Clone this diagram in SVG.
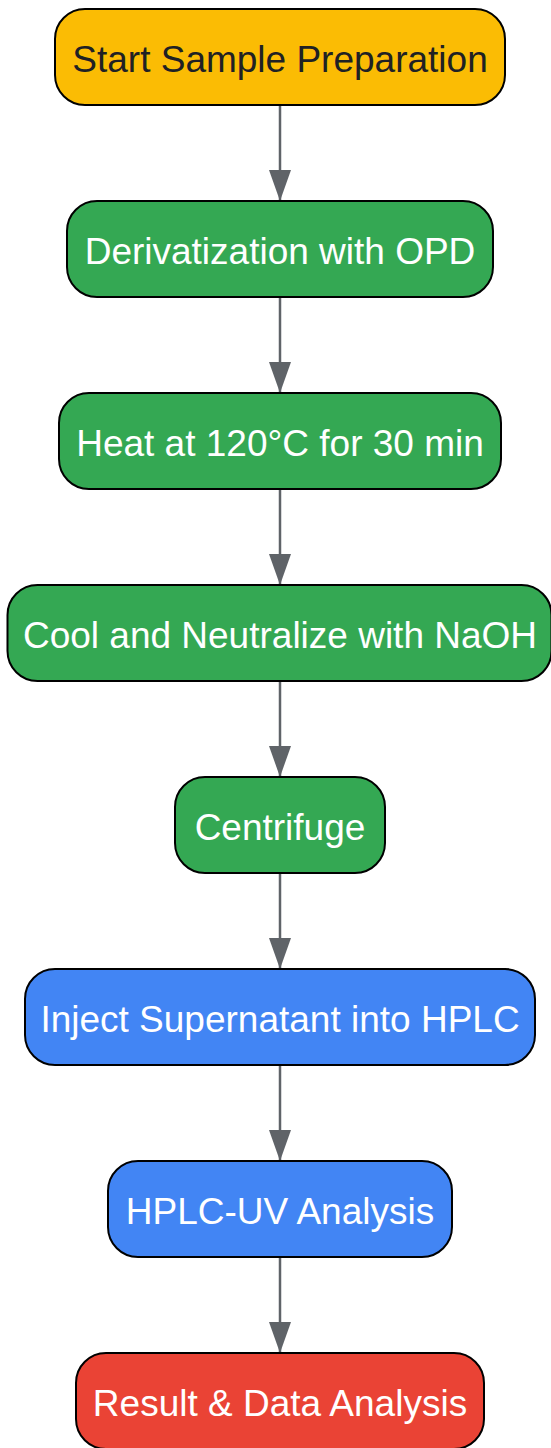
<svg xmlns="http://www.w3.org/2000/svg" width="551" height="1448" viewBox="0 0 551 1448">
<defs>
<style>
.n rect{stroke:#000;stroke-width:2}
.n text{font-family:"Liberation Sans",Arial,sans-serif;font-size:37px;text-anchor:middle;dominant-baseline:central;fill:#fff}
.y rect{fill:#FBBC04}
.y text{fill:#202124}
.g rect{fill:#34A853}
.b rect{fill:#4285F4}
.r rect{fill:#EA4335}
.e{stroke:#5f6368;stroke-width:2.5;fill:none;marker-end:url(#ah)}
</style>
<marker id="ah" markerWidth="32" markerHeight="22" refX="31" refY="11" orient="auto" markerUnits="userSpaceOnUse" viewBox="0 0 32 22">
<path d="M0,0 L31,11 L0,22 Z" fill="#5f6368"/>
</marker>
</defs>
<g id="edges">
<line class="e" x1="280" y1="105" x2="280" y2="201"/>
<line class="e" x1="280" y1="297" x2="280" y2="393"/>
<line class="e" x1="280" y1="489" x2="280" y2="585"/>
<line class="e" x1="280" y1="681" x2="280" y2="777"/>
<line class="e" x1="280" y1="873" x2="280" y2="969"/>
<line class="e" x1="280" y1="1065" x2="280" y2="1161"/>
<line class="e" x1="280" y1="1257" x2="280" y2="1353"/>
</g>
<g id="n1" class="n y"><rect x="55" y="9" width="450" height="96" rx="30"/><text x="280" y="59">Start Sample Preparation</text></g>
<g id="n2" class="n g"><rect x="67" y="201" width="426" height="96" rx="30"/><text x="280" y="251">Derivatization with OPD</text></g>
<g id="n3" class="n g"><rect x="59" y="393" width="442" height="96" rx="30"/><text x="280" y="443">Heat at 120°C for 30 min</text></g>
<g id="n4" class="n g"><rect x="7.5" y="585" width="544" height="96" rx="30"/><text x="280" y="635">Cool and Neutralize with NaOH</text></g>
<g id="n5" class="n g"><rect x="175" y="777" width="210" height="96" rx="30"/><text x="280" y="827">Centrifuge</text></g>
<g id="n6" class="n b"><rect x="25" y="969" width="510" height="96" rx="30"/><text x="280" y="1019">Inject Supernatant into HPLC</text></g>
<g id="n7" class="n b"><rect x="108" y="1161" width="344" height="96" rx="30"/><text x="280" y="1211">HPLC-UV Analysis</text></g>
<g id="n8" class="n r"><rect x="76" y="1353" width="408" height="96" rx="30"/><text x="280" y="1403">Result &amp; Data Analysis</text></g>
</svg>
